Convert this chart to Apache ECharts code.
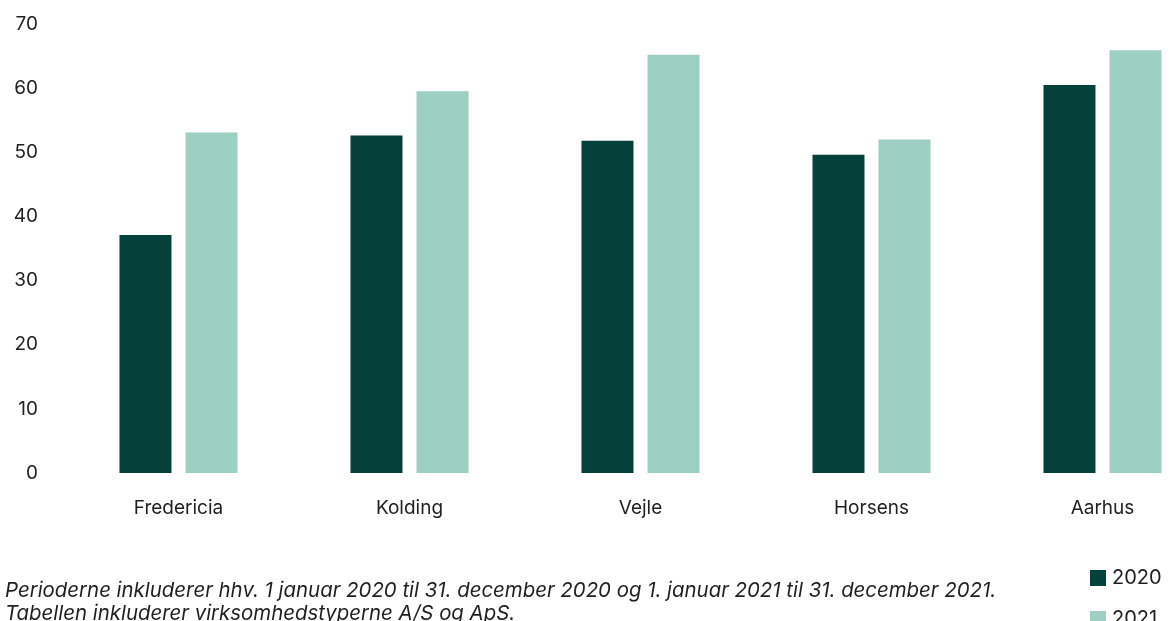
<!DOCTYPE html>
<html>
<head>
<meta charset="utf-8">
<script src="https://cdn.jsdelivr.net/npm/echarts@6/dist/echarts.min.js"></script>
<style>
  html, body { margin: 0; padding: 0; background: #fff; overflow: hidden; }
  #chart { width: 1220px; height: 660px; }
</style>
</head>
<body>
<div id="chart"></div>
<script>
const cities = ["Fredericia", "Kolding", "Vejle", "Horsens", "Aarhus"];
const values2020 = [37.1, 52.6, 51.8, 49.6, 60.5];
const values2021 = [53.1, 59.5, 65.2, 52.0, 65.9];
const yTicks = [0, 10, 20, 30, 40, 50, 60, 70];
const noteLines = [
  "Perioderne inkluderer hhv. 1 januar 2020 til 31. december 2020 og 1. januar 2021 til 31. december 2021.",
  "Tabellen inkluderer virksomhedstyperne A/S og ApS."
];

const dark = "#03413a";
const light = "#9bd0c2";
const textColor = "#1f1f1f";
const fontFamily = "Inter, 'Noto Sans', sans-serif";

const chart = echarts.init(document.getElementById("chart"));
chart.setOption({
  backgroundColor: "#fff",
  animation: false,
  grid: { left: 63, right: 2, top: 24, bottom: 187 },
  legend: {
    orient: "vertical",
    left: 1090,
    top: 568,
    padding: 0,
    itemWidth: 16,
    itemHeight: 16,
    itemGap: 21,
    icon: "rect",
    textStyle: { color: textColor, fontFamily, fontSize: 20, padding: [0, 0, 0, 1] },
    data: ["2020", "2021"]
  },
  xAxis: {
    type: "category",
    data: cities,
    axisLine: { show: false },
    axisTick: { show: false },
    axisLabel: { color: textColor, fontFamily, fontSize: 19, margin: 26 }
  },
  yAxis: {
    type: "value",
    min: yTicks[0],
    max: yTicks[yTicks.length - 1],
    interval: 10,
    splitLine: { show: false },
    axisLine: { show: false },
    axisTick: { show: false },
    axisLabel: { color: textColor, fontFamily, fontSize: 19, margin: 25 }
  },
  graphic: noteLines.map((line, i) => ({
    type: "text",
    left: 5,
    top: 581 + i * 23,
    style: {
      text: line,
      fill: textColor,
      font: "italic 20.4px " + fontFamily
    }
  })),
  series: [
    {
      name: "2020",
      type: "bar",
      data: values2020,
      barWidth: 52,
      barGap: "27%",
      itemStyle: { color: dark }
    },
    {
      name: "2021",
      type: "bar",
      data: values2021,
      barWidth: 52,
      itemStyle: { color: light }
    }
  ]
});
</script>
</body>
</html>
